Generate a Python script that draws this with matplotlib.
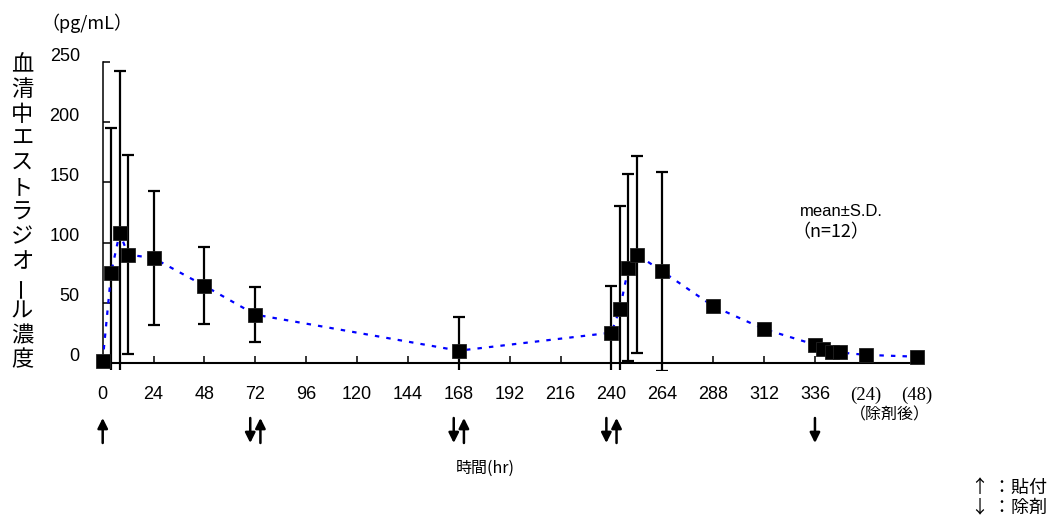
import numpy as np
import matplotlib
matplotlib.use("Agg")
import matplotlib.pyplot as plt
from matplotlib.transforms import blended_transform_factory, ScaledTranslation

plt.rcParams['font.family'] = ['Noto Sans CJK JP', 'DejaVu Sans']

# ---- data ----
hours = [0, 4, 8, 12, 24, 48, 72, 168, 240, 244, 248, 252, 264, 288, 312,
         336, 340, 344, 348, 360, 384]
mean_conc = [1.5, 75, 108, 90, 87, 64, 40, 10, 25, 45, 79, 90, 76, 47, 28,
             15, 11, 8.5, 8.5, 6.5, 5]
sd_conc = [np.nan, 120, 135, 83, 56, 32, 23, 28, 38.5, 85, 78, 82, 83, np.nan, np.nan,
           np.nan, np.nan, np.nan, np.nan, np.nan, np.nan]
xtick_vals = list(range(0, 385, 24))
xtick_labels = ['0', '24', '48', '72', '96', '120', '144', '168', '192', '216',
                '240', '264', '288', '312', '336', '(24)', '(48)']
ytick_vals = [0, 50, 100, 150, 200, 250]
patch_times = [0, 72, 168, 240]        # 貼付 (up arrows)
removal_times = [72, 168, 240, 336]    # 除剤 (down arrows)
ylabel_text = '血清中エストラジオール濃度'

W, H = 1057, 516
fig = plt.figure(figsize=(W / 100, H / 100), dpi=100)

ax_left, ax_right = 102.7, 916.7
y0px, y250px = 362.7, 62.3
ymin = -6
ppu = (y0px - y250px) / 250
ybot_px = y0px - ymin * ppu
ax = fig.add_axes([ax_left / W, 1 - ybot_px / H, (ax_right - ax_left) / W, (ybot_px - y250px) / H])
ax.set_xlim(0, 384)
ax.set_ylim(ymin, 250)

ax.errorbar(hours, mean_conc, yerr=sd_conc, fmt='none', ecolor='black',
            elinewidth=1.6, capsize=4.6, capthick=1.6, zorder=2)
ax.plot(hours, mean_conc, color='#0000FF', lw=1.6, ls=(0, (2, 3.2)), zorder=3)
ax.plot(hours, mean_conc, 's', ms=9.5, mfc='black', mec='#222222', mew=0.6,
        clip_on=False, zorder=4)

for s in ['top', 'right']:
    ax.spines[s].set_visible(False)
ax.spines['bottom'].set_position(('data', 0))
ax.spines['bottom'].set_linewidth(1.5)
ax.spines['left'].set_bounds(0, 250)
ax.spines['left'].set_linewidth(1.1)

sans = ['Liberation Sans', 'DejaVu Sans']
ax.set_yticks(ytick_vals)
ax.set_yticklabels([str(v) for v in ytick_vals], fontfamily=sans)
ax.set_xticks(xtick_vals)
ax.set_xticklabels(xtick_labels, fontfamily=sans)
ax.tick_params(axis='y', direction='in', length=5, width=1.1, pad=16.5, labelsize=13)
ax.tick_params(axis='x', direction='in', length=5, width=1.1, pad=17, labelsize=13)
off = ScaledTranslation(0, 0.08, fig.dpi_scale_trans)
for lab in ax.get_yticklabels():
    lab.set_transform(lab.get_transform() + off)
for lab in ax.get_xticklabels()[-2:]:
    lab.set_fontfamily(['Liberation Serif', 'DejaVu Serif'])
    lab.set_fontsize(13.5)

# vertical y label
for i, ch in enumerate(ylabel_text):
    fig.text(22 / W, 1 - (65 + i * 24.6) / H, ch, ha='center', va='center',
             fontsize=16, rotation=(90 if ch == 'ー' else 0))

fig.text(87 / W, 1 - 23 / H, '（pg/mL）', ha='center', va='center', fontsize=13)
fig.text(485 / W, 1 - 468 / H, '時間(hr)', ha='center', va='center', fontsize=11.5)
fig.text(890 / W, 1 - 415 / H, '（除剤後）', ha='center', va='center', fontsize=11.5)
fig.text(800 / W, 1 - 211 / H, 'mean±S.D.', ha='left', va='center', fontsize=12,
         fontfamily=sans)
fig.text(792 / W, 1 - 232 / H, '（n=12）', ha='left', va='center', fontsize=13)

fig.text(971 / W, 1 - 488 / H, '↑ ：貼付', ha='left', va='center', fontsize=13)
fig.text(971 / W, 1 - 507 / H, '↓ ：除剤', ha='left', va='center', fontsize=13)

# event arrows under the axis
tr = blended_transform_factory(ax.transData, fig.transFigure)
ytop, ybottom = 1 - 418 / H, 1 - 443 / H
aprops = dict(arrowstyle='-|>', lw=1.8, color='black', mutation_scale=15,
              shrinkA=0, shrinkB=0)
for t in patch_times:
    x = t + (2.4 if t in removal_times else 0)
    ax.annotate('', xy=(x, ytop), xytext=(x, ybottom), xycoords=tr,
                textcoords=tr, annotation_clip=False, arrowprops=aprops)
for t in removal_times:
    x = t - (2.4 if t in patch_times else 0)
    ax.annotate('', xy=(x, ybottom), xytext=(x, ytop), xycoords=tr,
                textcoords=tr, annotation_clip=False, arrowprops=aprops)

fig.savefig('out.png', dpi=100)
